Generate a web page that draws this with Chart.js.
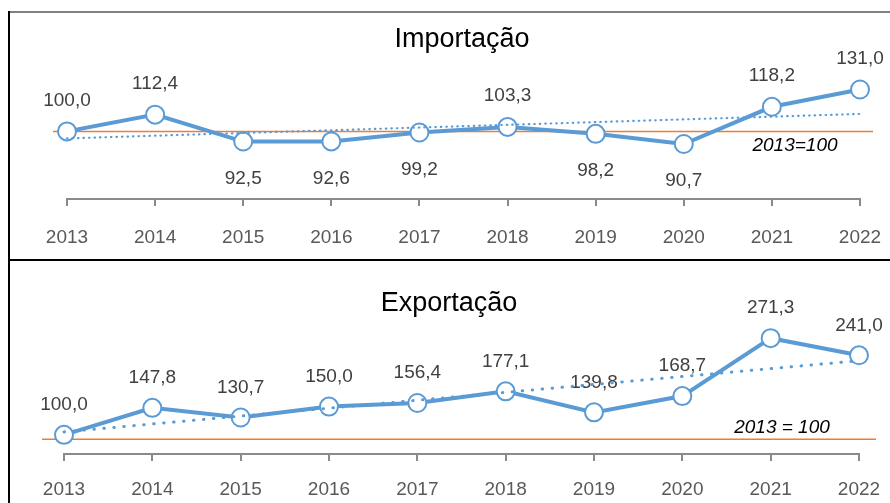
<!DOCTYPE html>
<html lang="pt">
<head>
<meta charset="UTF-8">
<title>Importação e Exportação (2013=100)</title>
<script src="https://cdn.jsdelivr.net/npm/chart.js"></script>
<style>
  body { margin: 0; background: #fff; }
  #wrap { position: relative; width: 890px; height: 503px; background: #fff; overflow: hidden; }
  canvas { position: absolute; left: 0; }
  .ln { position: absolute; }
</style>
</head>
<body>
<div id="wrap">
  <canvas id="imp" width="890" height="258" style="top:0"></canvas>
  <canvas id="exp" width="890" height="243" style="top:260px"></canvas>
  <!-- panel frames -->
  <div class="ln" style="left:8px;top:11px;width:882px;height:2px;background:#808080"></div>
  <div class="ln" style="left:8px;top:259px;width:882px;height:2px;background:#000"></div>
  <div class="ln" style="left:8px;top:11px;width:2px;height:492px;background:#000"></div>
</div>

<script>
// data
const years = ['2013', '2014', '2015', '2016', '2017', '2018', '2019', '2020', '2021', '2022'];
const importIdx = [100.0, 112.4, 92.5, 92.6, 99.2, 103.3, 98.2, 90.7, 118.2, 131.0];
const exportIdx = [100.0, 147.8, 130.7, 150.0, 156.4, 177.1, 139.8, 168.7, 271.3, 241.0];
// dotted trend line, value at 2013 and at 2022
const importTrend = [94.8, 112.9];
const exportTrend = [105.2, 231.4];
// where each value label sits
const importSides = ['above', 'above', 'below', 'below', 'below', 'above', 'below', 'below', 'above', 'above'];
const exportSides = ['above', 'above', 'above', 'above', 'above', 'above', 'above', 'above', 'above', 'above'];

const BLUE = '#5B9BD5';
const ORANGE = '#ED7D31';
const FONT = '"Liberation Sans", Arial, sans-serif';

function fmt(v) {
    return v.toFixed(1).replace('.', ',');
}

function endsOnly(pair) {
    return years.map((y, i) => i === 0 ? pair[0] : (i === years.length - 1 ? pair[1] : null));
}

// titles, base line, note and value labels
const decor = {
    id: 'decor',
    beforeDatasetsDraw(chart, args, o) {
        const ctx = chart.ctx;
        const area = chart.chartArea;
        const y = chart.scales.y.getPixelForValue(o.refValue);
        ctx.save();
        ctx.strokeStyle = ORANGE;
        ctx.lineWidth = 1.5;
        ctx.beginPath();
        ctx.moveTo(area.left - o.refExt[0], y);
        ctx.lineTo(area.right + o.refExt[1], y);
        ctx.stroke();

        // value labels
        ctx.font = '19px ' + FONT;
        ctx.fillStyle = '#404040';
        ctx.textAlign = 'center';
        ctx.textBaseline = 'middle';
        const meta = chart.getDatasetMeta(0);
        const vals = chart.data.datasets[0].data;
        meta.data.forEach((pt, i) => {
            const dy = o.sides[i] === 'above' ? -o.above : o.below;
            ctx.fillText(fmt(vals[i]), pt.x, pt.y + dy);
        });

        // title
        ctx.font = '27px ' + FONT;
        ctx.fillStyle = '#000';
        ctx.fillText(o.title, o.titlePos[0], o.titlePos[1]);

        // base note
        ctx.font = 'italic 19px ' + FONT;
        ctx.fillText(o.note, o.notePos[0], o.notePos[1]);
        ctx.restore();
    }
};

function makeChart(id, values, trend, cfg) {
    new Chart(document.getElementById(id), {
        type: 'line',
        data: {
            labels: years,
            datasets: [{
                data: values,
                borderColor: BLUE,
                borderWidth: 4,
                pointRadius: 9,
                pointBorderWidth: 2,
                pointBackgroundColor: '#fff',
                pointBorderColor: BLUE,
                tension: 0,
                clip: false,
                order: 1
            }, {
                data: endsOnly(trend),
                spanGaps: true,
                borderColor: BLUE,
                borderWidth: cfg.trendWidth,
                borderDash: cfg.trendDash,
                borderCapStyle: 'round',
                pointRadius: 0,
                clip: false,
                order: 0
            }]
        },
        options: {
            responsive: false,
            animation: false,
            events: [],
            layout: { padding: cfg.padding },
            scales: {
                x: {
                    offset: false,
                    grid: {
                        drawOnChartArea: false,
                        drawTicks: true,
                        tickLength: 7,
                        color: '#8a8a8a',
                        lineWidth: 2
                    },
                    border: { display: true, color: '#8a8a8a', width: 2 },
                    ticks: {
                        font: { family: FONT, size: 19 },
                        color: '#595959',
                        padding: cfg.tickPad,
                        maxRotation: 0,
                        autoSkip: false
                    },
                    afterFit(scale) {
                        scale.height = cfg.axisH;
                        scale.paddingLeft = 0;
                        scale.paddingRight = 0;
                    }
                },
                y: { display: false, min: cfg.min, max: cfg.max }
            },
            plugins: {
                legend: { display: false },
                tooltip: { enabled: false },
                decor: {
                    refValue: cfg.refValue,
                    refExt: cfg.refExt,
                    sides: cfg.sides,
                    above: cfg.above,
                    below: cfg.below,
                    title: cfg.title,
                    titlePos: cfg.titlePos,
                    note: cfg.note,
                    notePos: cfg.notePos
                }
            }
        },
        plugins: [decor]
    });
}

makeChart('imp', importIdx, importTrend, {
    padding: { left: 67, right: 30, top: 30, bottom: 0 },
    axisH: 59,
    min: 50, max: 175,
    tickPad: 20,
    trendWidth: 2.2,
    trendDash: [0.5, 5],
    refValue: 100,
    refExt: [14, 13],
    sides: importSides,
    above: 31, below: 37,
    title: 'Importação', titlePos: [462, 40],
    note: '2013=100', notePos: [795, 146]
});

makeChart('exp', exportIdx, exportTrend, {
    padding: { left: 64, right: 31, top: 62, bottom: 0 },
    axisH: 49,
    min: 66, max: 300,
    tickPad: 17,
    trendWidth: 3,
    trendDash: [0.5, 9.5],
    refValue: 92,
    refExt: [22, 17],
    sides: exportSides,
    above: 30, below: 37,
    title: 'Exportação', titlePos: [449, 44],
    note: '2013 = 100', notePos: [782, 168]
});
</script>
</body>
</html>
